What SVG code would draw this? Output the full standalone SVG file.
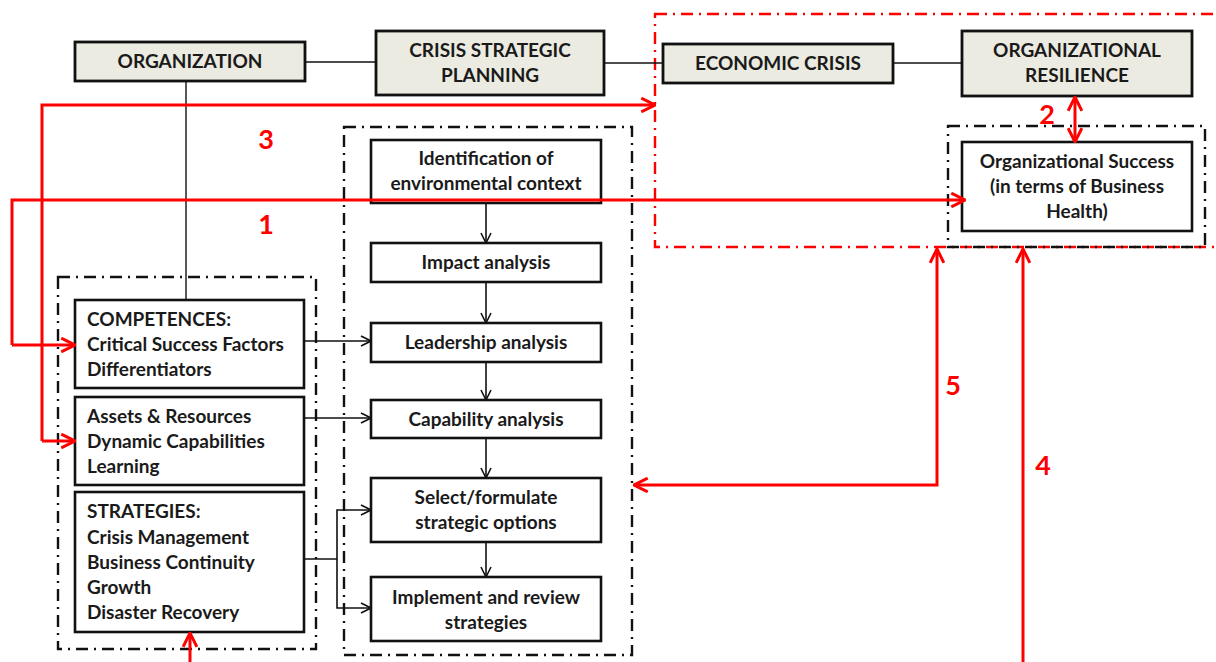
<svg xmlns="http://www.w3.org/2000/svg" width="1216" height="662" viewBox="0 0 1216 662">
  <style>
    .box { fill: #ffffff; stroke: #111111; stroke-width: 2.6; }
    .head { fill: #ecebe1; stroke: #111111; stroke-width: 2.8; }
    .t { font-family: Lato, "Open Sans", sans-serif; font-weight: bold; font-size: 19px; fill: #1a1a1a; }
    .c { text-anchor: middle; }
    .frame { fill: none; stroke: #111111; stroke-width: 2.4; stroke-dasharray: 12 6 2 6; }
    .rframe { fill: none; stroke: #ff0000; stroke-width: 2.4; stroke-dasharray: 12 6 2 6; }
    .link { fill: none; stroke: #111111; stroke-width: 1.4; }
    .flow { fill: none; stroke: #111111; stroke-width: 1.6; marker-end: url(#blk); }
    .red { fill: none; stroke: #ff0000; stroke-width: 3; }
    .num { font-family: Lato, "Open Sans", sans-serif; font-weight: bold; font-size: 27px; fill: #ff0000; text-anchor: middle; }
  </style>
  <defs>
    <marker id="blk" viewBox="0 0 12 12" refX="11" refY="6" markerWidth="12" markerHeight="12" markerUnits="userSpaceOnUse" orient="auto">
      <path d="M1,1 L11,6 L1,11" fill="none" stroke="#111111" stroke-width="1.6"/>
    </marker>
    <marker id="redh" viewBox="0 0 14 14" refX="13" refY="7" markerWidth="16" markerHeight="16" markerUnits="userSpaceOnUse" orient="auto-start-reverse">
      <path d="M1,1 L13,7 L1,13" fill="none" stroke="#ff0000" stroke-width="2.6"/>
    </marker>
  </defs>

  <!-- dash-dot frames -->
  <g id="frames">
    <rect class="rframe" x="655" y="14" width="575" height="233"/>
    <rect class="frame" x="948" y="126" width="257" height="121"/>
    <rect class="frame" x="344" y="127" width="288" height="528"/>
    <rect class="frame" x="58" y="277" width="258" height="372"/>
  </g>

  <!-- black connectors -->
  <g id="connectors">
    <line class="link" x1="305" y1="62" x2="376" y2="62"/>
    <line class="link" x1="604" y1="63" x2="663" y2="63"/>
    <line class="link" x1="893" y1="63" x2="962" y2="63"/>
    <line class="link" x1="186" y1="81" x2="186" y2="300"/>

    <line class="flow" x1="486" y1="203" x2="486" y2="243"/>
    <line class="flow" x1="486" y1="282" x2="486" y2="323"/>
    <line class="flow" x1="486" y1="362" x2="486" y2="400"/>
    <line class="flow" x1="486" y1="438" x2="486" y2="478"/>
    <line class="flow" x1="486" y1="542" x2="486" y2="577"/>

    <line class="flow" x1="304" y1="341" x2="371" y2="341"/>
    <line class="flow" x1="304" y1="418" x2="371" y2="418"/>
    <polyline class="link" points="304,559 337,559"/>
    <polyline class="flow" points="337,559 337,510 371,510"/>
    <polyline class="flow" points="337,559 337,608 371,608"/>
  </g>

  <g id="organization">
    <rect class="head" x="75" y="42" width="230" height="39"/>
    <text class="t c" x="190" y="68">ORGANIZATION</text>
  </g>
  <g id="crisis-strategic-planning">
    <rect class="head" x="376" y="31" width="228" height="64"/>
    <text class="t c" x="490" y="57">CRISIS STRATEGIC</text>
    <text class="t c" x="490" y="82">PLANNING</text>
  </g>
  <g id="economic-crisis">
    <rect class="head" x="663" y="44" width="230" height="39"/>
    <text class="t c" x="778" y="70">ECONOMIC CRISIS</text>
  </g>
  <g id="organizational-resilience">
    <rect class="head" x="962" y="31" width="230" height="65"/>
    <text class="t c" x="1077" y="57">ORGANIZATIONAL</text>
    <text class="t c" x="1077" y="82">RESILIENCE</text>
  </g>
  <g id="organizational-success">
    <rect class="box" x="962" y="142" width="230" height="89"/>
    <text class="t c" x="1077" y="168">Organizational Success</text>
    <text class="t c" x="1077" y="193">(in terms of Business</text>
    <text class="t c" x="1077" y="218">Health)</text>
  </g>

  <g id="identification">
    <rect class="box" x="371" y="140" width="230" height="63"/>
    <text class="t c" x="486" y="165">Identification of</text>
    <text class="t c" x="486" y="190">environmental context</text>
  </g>
  <g id="impact">
    <rect class="box" x="371" y="243" width="230" height="39"/>
    <text class="t c" x="486" y="269">Impact analysis</text>
  </g>
  <g id="leadership">
    <rect class="box" x="371" y="323" width="230" height="39"/>
    <text class="t c" x="486" y="349">Leadership analysis</text>
  </g>
  <g id="capability">
    <rect class="box" x="371" y="400" width="230" height="38"/>
    <text class="t c" x="486" y="426">Capability analysis</text>
  </g>
  <g id="select-formulate">
    <rect class="box" x="371" y="478" width="230" height="64"/>
    <text class="t c" x="486" y="504">Select/formulate</text>
    <text class="t c" x="486" y="529">strategic options</text>
  </g>
  <g id="implement-review">
    <rect class="box" x="371" y="577" width="230" height="64"/>
    <text class="t c" x="486" y="604">Implement and review</text>
    <text class="t c" x="486" y="629">strategies</text>
  </g>

  <g id="competences">
    <rect class="box" x="75" y="300" width="229" height="88"/>
    <text class="t" x="87" y="326">COMPETENCES:</text>
    <text class="t" x="87" y="351">Critical Success Factors</text>
    <text class="t" x="87" y="376">Differentiators</text>
  </g>
  <g id="assets">
    <rect class="box" x="75" y="397" width="229" height="88"/>
    <text class="t" x="87" y="423">Assets &amp; Resources</text>
    <text class="t" x="87" y="448">Dynamic Capabilities</text>
    <text class="t" x="87" y="473">Learning</text>
  </g>
  <g id="strategies">
    <rect class="box" x="75" y="492" width="229" height="140"/>
    <text class="t" x="87" y="518">STRATEGIES:</text>
    <text class="t" x="87" y="544">Crisis Management</text>
    <text class="t" x="87" y="569">Business Continuity</text>
    <text class="t" x="87" y="594">Growth</text>
    <text class="t" x="87" y="619">Disaster Recovery</text>
  </g>

  <!-- red feedback paths, drawn on top -->
  <g id="feedback">
    <polyline class="red" points="42,441 42,105 655,105" marker-end="url(#redh)"/>
    <line class="red" x1="42" y1="441" x2="75" y2="441" marker-end="url(#redh)"/>
    <polyline class="red" points="12,345 12,200 965,200" marker-end="url(#redh)"/>
    <line class="red" x1="12" y1="345" x2="75" y2="345" marker-end="url(#redh)"/>
    <line class="red" x1="1075" y1="97" x2="1075" y2="142" marker-start="url(#redh)" marker-end="url(#redh)"/>
    <polyline class="red" points="634,485 937,485 937,249" marker-start="url(#redh)" marker-end="url(#redh)"/>
    <line class="red" x1="1023" y1="662" x2="1023" y2="249" marker-end="url(#redh)"/>
    <line class="red" x1="190" y1="662" x2="190" y2="633" marker-end="url(#redh)"/>

    <text class="num" x="266" y="149">3</text>
    <text class="num" x="266" y="234">1</text>
    <text class="num" x="1047" y="124">2</text>
    <text class="num" x="953" y="395">5</text>
    <text class="num" x="1043" y="475">4</text>
  </g>
</svg>
